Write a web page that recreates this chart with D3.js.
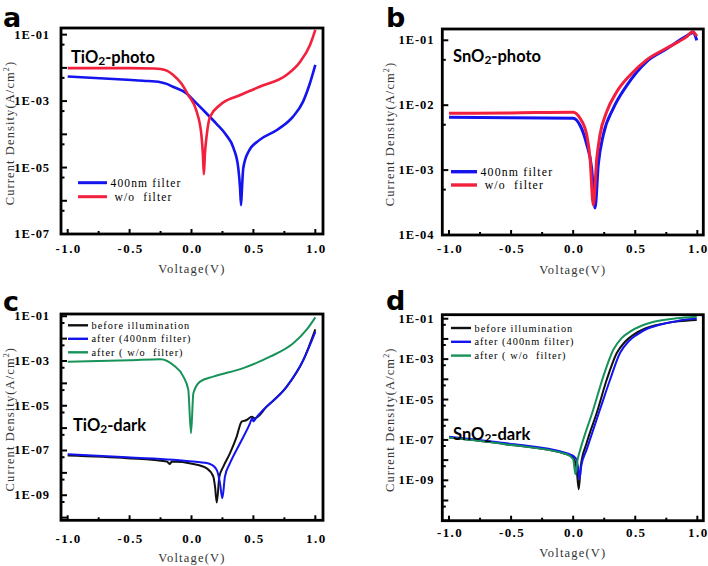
<!DOCTYPE html>
<html>
<head>
<meta charset="utf-8">
<script src="https://cdn.jsdelivr.net/npm/d3@7"></script>
<style>
  body { margin: 0; background: #fff; }
  text { font-family: "Liberation Serif", serif; }
  text.sans { font-family: Lato, "Open Sans", sans-serif; }
  text.letter { font-family: "DejaVu Sans", sans-serif; }
</style>
</head>
<body>
<svg id="fig" width="708" height="566"></svg>
<script>
// ---- data: [voltage (V), current density (A/cm2)] ----
// a: TiO2-photo
const tiPhotoFilter = [[-1, 5.5e-3], [-0.52, 4.4e-3], [-0.39, 4.1e-3], [-0.25, 3.7e-3], [-0.2, 3.3e-3],
  [-0.15, 2.7e-3], [-0.04, 1.7e-3], [0.015, 1.07e-3], [0.12, 4.3e-4], [0.2, 2.1e-4], [0.28, 9.5e-5],
  [0.34, 3.8e-5], [0.378, 9.5e-6], [0.392, 2.5e-6], [0.4, 7.4e-7], [0.408, 2.5e-6], [0.418, 9.5e-6],
  [0.46, 3.0e-5], [0.55, 6.8e-5], [0.69, 1.35e-4], [0.82, 3.4e-4], [0.9, 9.5e-4], [0.957, 3.5e-3],
  [1.0, 1.23e-2]];
const tiPhotoNoFilter = [[-1, 9.8e-3], [-0.5, 9.8e-3], [-0.3, 9.6e-3], [-0.25, 9.3e-3], [-0.2, 8.3e-3],
  [-0.15, 6.2e-3], [-0.08, 3.3e-3], [-0.026, 1.5e-3], [0.042, 4.8e-4], [0.08, 9.5e-5], [0.092, 2.5e-5],
  [0.1, 6.3e-6], [0.108, 2.5e-5], [0.123, 9.5e-5], [0.15, 3.4e-4], [0.23, 7.6e-4], [0.39, 1.5e-3],
  [0.55, 2.7e-3], [0.77, 6.2e-3], [0.876, 1.5e-2], [0.957, 4.9e-2], [1.0, 1.4e-1]];

// b: SnO2-photo
const snPhotoFilter = [[-1, 6.5e-3], [-0.5, 6.4e-3], [0.0, 6.3e-3], [0.055, 4.9e-3], [0.109, 2.5e-3],
  [0.149, 1.07e-3], [0.176, 2.6e-4], [0.202, 1.2e-3], [0.243, 3.5e-3], [0.323, 8.9e-3], [0.431, 2.0e-2],
  [0.592, 4.7e-2], [0.754, 7.4e-2], [0.915, 1.17e-1], [0.968, 1.32e-1], [0.995, 1.0e-1]];
const snPhotoNoFilter = [[-1, 7.5e-3], [-0.5, 7.6e-3], [0.0, 7.8e-3], [0.055, 6.3e-3], [0.109, 3.5e-3],
  [0.136, 1.5e-3], [0.162, 2.9e-4], [0.19, 1.5e-3], [0.216, 3.5e-3], [0.27, 7.9e-3], [0.35, 1.6e-2],
  [0.458, 2.9e-2], [0.592, 5.0e-2], [0.754, 7.6e-2], [0.915, 1.14e-1], [0.963, 1.35e-1], [0.995, 1.15e-1]];

// c: TiO2-dark
const tiDarkBefore = [[-1, 5.9e-8], [-0.52, 4.5e-8], [-0.2, 3.2e-8], [-0.174, 2.5e-8], [-0.16, 3.2e-8],
  [0.015, 2.5e-8], [0.123, 1.6e-8], [0.176, 6.8e-9], [0.19, 2.4e-9], [0.204, 4.7e-10], [0.225, 6.8e-9],
  [0.257, 1.9e-8], [0.311, 7.6e-8], [0.365, 4.2e-7], [0.405, 1.95e-6], [0.446, 2.3e-6], [0.486, 3.2e-6],
  [0.513, 2.75e-6], [0.607, 9.1e-6], [0.769, 7.1e-5], [0.903, 1.1e-3], [1.0, 2.6e-2]];
const tiDarkFilter = [[-1, 6.8e-8], [-0.52, 5.0e-8], [0.015, 3.2e-8], [0.149, 2.5e-8], [0.204, 1.35e-8],
  [0.23, 3.5e-9], [0.249, 7.4e-10], [0.27, 6.8e-9], [0.311, 2.7e-8], [0.392, 2.1e-7], [0.473, 1.66e-6],
  [0.49, 2.8e-6], [0.5, 2.0e-6], [0.52, 2.8e-6], [0.553, 4.6e-6], [0.769, 7.1e-5], [0.903, 1.1e-3],
  [1.0, 2.0e-2]];
const tiDarkNoFilter = [[-1, 9.3e-4], [-0.5, 1.07e-3], [-0.25, 1.2e-3], [-0.147, 6.6e-4], [-0.066, 2.0e-4],
  [-0.026, 5.1e-5], [-0.004, 5.9e-7], [0.015, 3.6e-5], [0.069, 1.2e-4], [0.176, 2.0e-4], [0.418, 4.8e-4],
  [0.634, 1.55e-3], [0.822, 6.2e-3], [0.93, 2.5e-2], [1.0, 8.9e-2]];

// d: SnO2-dark
const snDarkBefore = [[-1, 1.3e-7], [-0.535, 6.0e-8], [-0.052, 1.95e-8], [0.001, 1.3e-8], [0.028, 3.5e-9],
  [0.045, 3.6e-10], [0.061, 5.1e-9], [0.109, 7.2e-8], [0.19, 2.2e-6], [0.27, 9.5e-5], [0.351, 2.0e-3],
  [0.42, 7.5e-3], [0.485, 1.6e-2], [0.58, 3.3e-2], [0.673, 4.9e-2], [0.85, 7.4e-2], [0.995, 8.7e-2]];
const snDarkFilter = [[-1, 1.45e-7], [-0.535, 6.8e-8], [-0.052, 2.2e-8], [0.02, 1.26e-8], [0.04, 4.0e-9],
  [0.05, 1.1e-9], [0.065, 5.0e-9], [0.109, 3.4e-8], [0.216, 3.2e-6], [0.297, 9.5e-5], [0.377, 2.0e-3],
  [0.445, 7.5e-3], [0.512, 1.6e-2], [0.6, 3.3e-2], [0.69, 4.9e-2], [0.85, 8.0e-2], [0.995, 1.05e-1]];
const snDarkNoFilter = [[-1, 1.3e-7], [-0.535, 6.0e-8], [-0.052, 1.95e-8], [0.0, 1.1e-8], [0.018, 2.0e-9],
  [0.035, 1.0e-8], [0.058, 3.4e-8], [0.162, 3.2e-6], [0.243, 1.4e-4], [0.323, 2.9e-3], [0.39, 1.1e-2],
  [0.458, 2.3e-2], [0.55, 4.5e-2], [0.65, 7.1e-2], [0.83, 1.05e-1], [0.995, 1.26e-1]];

const xTickValues = [-1, -0.75, -0.5, -0.25, 0, 0.25, 0.5, 0.75, 1];
const xTickLabels = ["-1.0", "", "-0.5", "", "0.0", "", "0.5", "", "1.0"];
const photoLegend = ["400nm filter", " w/o  filter"];
const darkLegend = ["before illumination", "after (400nm filter)", "after ( w/o  filter)"];

const BLUE = "#1414ee", RED = "#f21f3d", GREEN = "#17935a", BLACK = "#111";

const svg = d3.select("#fig");

const panels = [
  { letter: "a", lx: 3, ly: 27, left: 61, right: 323, top: 28, bottom: 234,
    xd: [-1.054, 1.062], yd: [1e-7, Math.pow(10, -0.8)], yLabels: [-1, -3, -5, -7],
    labelGap: 11, yTitleX: 10, xLabelY: 253, xTitleY: 273,
    title: ["TiO", "2", "-photo"], tx: 71, ty: 63,
    series: [[tiPhotoFilter, BLUE], [tiPhotoNoFilter, RED]], sw: 2.6,
    legend: photoLegend, legX: [78, 107], legY: 182.7, legStep: 14, legFont: 11.5 },
  { letter: "b", lx: 386, ly: 27, left: 442.3, right: 703.3, top: 29, bottom: 235,
    xd: [-1.054, 1.048], yd: [1e-4, Math.pow(10, -0.826)], yLabels: [-1, -2, -3, -4],
    labelGap: 8, yTitleX: 390, xLabelY: 253, xTitleY: 274,
    title: ["SnO", "2", "-photo"], tx: 453, ty: 62,
    series: [[snPhotoFilter, BLUE], [snPhotoNoFilter, RED]], sw: 3,
    legend: photoLegend, legX: [451, 477], legY: 171.7, legStep: 13.3, legFont: 11.8 },
  { letter: "c", lx: 3, ly: 311, left: 61, right: 323, top: 314, bottom: 520.3,
    xd: [-1.054, 1.062], yd: [Math.pow(10, -10.12), Math.pow(10, -0.9)], yLabels: [-1, -3, -5, -7, -9],
    labelGap: 11, yTitleX: 10, xLabelY: 543, xTitleY: 562,
    title: ["TiO", "2", "-dark"], tx: 73, ty: 431,
    series: [[tiDarkBefore, BLACK], [tiDarkFilter, BLUE], [tiDarkNoFilter, GREEN]], sw: 2,
    legend: darkLegend, legX: [68, 88], legY: 325.3, legStep: 13.5, legFont: 10.3 },
  { letter: "d", lx: 386, ly: 310, left: 442.3, right: 703.3, top: 314.7, bottom: 520.7,
    xd: [-1.054, 1.048], yd: [1e-11, Math.pow(10, -0.8)], yLabels: [-1, -3, -5, -7, -9],
    labelGap: 8, yTitleX: 390, xLabelY: 537, xTitleY: 557,
    title: ["SnO", "2", "-dark"], tx: 453, ty: 440,
    series: [[snDarkBefore, BLACK], [snDarkFilter, BLUE], [snDarkNoFilter, GREEN]], sw: 2,
    legend: darkLegend, legX: [451, 471], legY: 328, legStep: 13.8, legFont: 10.3 }
];

function drawPanel(p) {
  const g = svg.append("g");
  const x = d3.scaleLinear().domain(p.xd).range([p.left, p.right]);
  const y = d3.scaleLog().domain(p.yd).range([p.bottom, p.top]);

  const clipId = "clip-" + p.letter;
  g.append("clipPath").attr("id", clipId)
    .append("rect")
    .attr("x", p.left).attr("y", p.top)
    .attr("width", p.right - p.left).attr("height", p.bottom - p.top);

  // curves
  const line = d3.line()
    .x(d => x(d[0]))
    .y(d => y(d[1]))
    .curve(d3.curveMonotoneX);
  const curves = g.append("g").attr("clip-path", "url(#" + clipId + ")");
  p.series.forEach(([data, color]) => {
    curves.append("path")
      .attr("d", line(data))
      .attr("fill", "none")
      .attr("stroke", color)
      .attr("stroke-width", p.sw)
      .attr("stroke-linejoin", "round");
  });

  // y ticks: each decade (long), 5x10^n (short), pointing inward
  const lo = Math.floor(Math.log10(p.yd[0])), hi = Math.ceil(Math.log10(p.yd[1]));
  for (let e = lo; e <= hi; e++) {
    [[Math.pow(10, e), 6], [5 * Math.pow(10, e), 3.5]].forEach(([v, len]) => {
      if (v < p.yd[0] * 0.999 || v > p.yd[1]) return;
      g.append("line")
        .attr("x1", p.left).attr("x2", p.left + len)
        .attr("y1", y(v)).attr("y2", y(v))
        .attr("stroke", "#000").attr("stroke-width", 2);
    });
  }
  g.selectAll(".ylab")
    .data(p.yLabels)
    .enter().append("text")
    .attr("x", p.left - p.labelGap)
    .attr("y", e => y(Math.pow(10, e)) + 4)
    .attr("text-anchor", "end")
    .attr("font-size", 12.5)
    .attr("font-weight", "bold")
    .attr("letter-spacing", 0.9)
    .text(e => "1E-" + String(-e).padStart(2, "0"));

  // x ticks
  xTickValues.forEach((v, i) => {
    const major = xTickLabels[i] !== "";
    g.append("line")
      .attr("x1", x(v)).attr("x2", x(v))
      .attr("y1", p.bottom).attr("y2", p.bottom - (major ? 5 : 3))
      .attr("stroke", "#000").attr("stroke-width", 2);
    if (major) {
      g.append("text")
        .attr("x", x(v) + 1)
        .attr("y", p.xLabelY)
        .attr("text-anchor", "middle")
        .attr("font-size", 13)
        .attr("font-weight", "bold")
        .attr("letter-spacing", 1.4)
        .text(xTickLabels[i]);
    }
  });

  // frame
  g.append("rect")
    .attr("x", p.left).attr("y", p.top)
    .attr("width", p.right - p.left).attr("height", p.bottom - p.top)
    .attr("fill", "none").attr("stroke", "#000").attr("stroke-width", 2.8);

  // axis titles
  g.append("text")
    .attr("x", (p.left + p.right) / 2)
    .attr("y", p.xTitleY)
    .attr("text-anchor", "middle")
    .attr("font-size", 12.5)
    .attr("letter-spacing", 1.2)
    .attr("fill", "#333")
    .text("Voltage(V)");
  const yt = g.append("text")
    .attr("transform", "translate(" + (p.yTitleX + 4) + "," + ((p.top + p.bottom) / 2 + 2) + ") rotate(-90)")
    .attr("text-anchor", "middle")
    .attr("font-size", 12.5)
    .attr("letter-spacing", 1.1)
    .attr("fill", "#333");
  yt.append("tspan").text("Current Density(A/cm");
  yt.append("tspan").attr("font-size", 8).attr("dy", -5).text("2");
  yt.append("tspan").attr("dy", 5).text(")");

  // panel letter (bold sans) and title
  g.append("text")
    .attr("class", "letter")
    .attr("x", p.lx).attr("y", p.ly)
    .attr("font-weight", "bold")
    .attr("font-size", 27)
    .text(p.letter);
  const t = g.append("text")
    .attr("class", "sans")
    .attr("x", p.tx).attr("y", p.ty)
    .attr("font-weight", "bold")
    .attr("font-size", 16.5);
  t.append("tspan").text(p.title[0]);
  t.append("tspan").attr("font-size", 12).attr("dy", 2).text(p.title[1]);
  t.append("tspan").attr("dy", -2).text(p.title[2]);

  // legend
  p.legend.forEach((label, i) => {
    const ly = p.legY + i * p.legStep;
    g.append("line")
      .attr("x1", p.legX[0]).attr("x2", p.legX[1])
      .attr("y1", ly).attr("y2", ly)
      .attr("stroke", p.series[i][1])
      .attr("stroke-width", p.sw + 0.4);
    g.append("text")
      .attr("x", p.legX[1] + 3.5)
      .attr("y", ly + p.legFont * 0.35)
      .attr("xml:space", "preserve")
      .style("white-space", "pre")
      .attr("font-size", p.legFont)
      .attr("letter-spacing", p.legFont * 0.1)
      .text(label);
  });
}

panels.forEach(drawPanel);
</script>
</body>
</html>
